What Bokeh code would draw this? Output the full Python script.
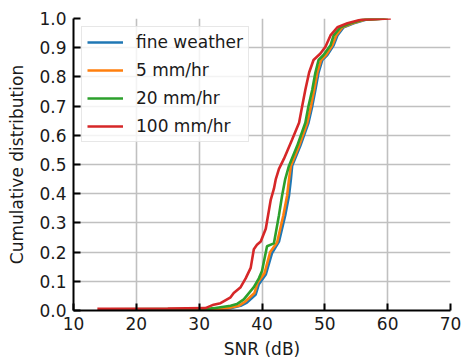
from bokeh.plotting import figure
from bokeh.models import Range1d, FixedTicker, PrintfTickFormatter, Legend, LegendItem
from bokeh.embed import file_html
from bokeh.resources import INLINE

# --- data ---
fine_x = [16.0, 33.0, 35.0, 36.6, 37.6, 39.0, 39.5, 40.6, 41.6, 42.7, 43.7, 44.3, 44.6, 44.8,
          46.1, 47.4, 48.0, 48.5, 49.0, 49.6, 50.4, 51.4, 52.0, 53.0, 54.6, 56.5, 59.5]
fine_y = [0.003, 0.005, 0.008, 0.016, 0.027, 0.055, 0.09, 0.123, 0.197, 0.236, 0.326, 0.394, 0.45, 0.496,
          0.564, 0.643, 0.70, 0.756, 0.815, 0.858, 0.875, 0.908, 0.942, 0.97, 0.984, 0.996, 1.0]

r5_x = [16.0, 32.5, 34.5, 36.3, 37.3, 38.8, 39.3, 40.4, 41.3, 42.4, 43.4, 44.0, 44.3, 44.6,
        45.9, 47.2, 47.8, 48.3, 48.8, 49.4, 50.2, 51.2, 51.8, 52.8, 54.4, 56.3, 59.7]
r5_y = [0.003, 0.005, 0.008, 0.016, 0.03, 0.06, 0.095, 0.128, 0.2, 0.233, 0.326, 0.394, 0.45, 0.496,
        0.564, 0.643, 0.70, 0.756, 0.815, 0.858, 0.875, 0.908, 0.942, 0.97, 0.984, 0.996, 1.0]

r20_x = [15.0, 31.5, 32.3, 35.0, 36.0, 37.1, 38.7, 39.5, 40.0, 40.8, 41.9, 42.7, 43.2, 43.7,
         44.3, 45.6, 46.9, 47.4, 48.0, 48.5, 49.0, 49.8, 50.9, 51.4, 52.5, 54.1, 56.0, 60.0]
r20_y = [0.004, 0.006, 0.008, 0.016, 0.022, 0.038, 0.08, 0.11, 0.135, 0.22, 0.23, 0.326, 0.394, 0.45,
         0.496, 0.564, 0.643, 0.70, 0.756, 0.815, 0.858, 0.875, 0.908, 0.942, 0.97, 0.984, 0.996, 1.0]

r100_x = [13.8, 25.0, 31.0, 32.3, 33.4, 35.0, 35.5, 36.6, 37.4, 38.2, 38.7, 39.2, 39.8, 40.6,
          41.4, 41.9, 42.2, 42.7, 43.5, 44.8, 45.9, 46.4, 46.9, 47.5, 48.2, 49.3, 50.1, 50.9,
          52.0, 53.6, 55.7, 60.5]
r100_y = [0.006, 0.007, 0.008, 0.02, 0.025, 0.045, 0.06, 0.08, 0.11, 0.146, 0.21, 0.225, 0.236, 0.28,
          0.38, 0.417, 0.45, 0.485, 0.52, 0.586, 0.643, 0.70, 0.756, 0.815, 0.858, 0.88, 0.903, 0.942,
          0.97, 0.984, 0.996, 1.0]

series_names = ["fine weather", "5 mm/hr", "20 mm/hr", "100 mm/hr"]
series_colors = ["#1f77b4", "#ff7f0e", "#2ca02c", "#d62728"]

x_ticks = [10, 20, 30, 40, 50, 60, 70]
y_ticks = [0.0, 0.1, 0.2, 0.3, 0.4, 0.5, 0.6, 0.7, 0.8, 0.9, 1.0]

FONT = "DejaVu Sans"
FS = "17px"

p = figure(width=463, height=361, output_backend="svg", toolbar_location=None,
           x_range=Range1d(10, 70), y_range=Range1d(0, 1.0),
           min_border_left=73, min_border_top=18, min_border_right=13, min_border_bottom=48)
p.outline_line_color = None
p.background_fill_color = "white"

data = [(fine_x, fine_y), (r5_x, r5_y), (r20_x, r20_y), (r100_x, r100_y)]
renderers = []
for (xs, ys), c in zip(data, series_colors):
    r = p.line(xs, ys, line_color=c, line_width=2.6)
    renderers.append(r)

for ax in (p.xaxis[0], p.yaxis[0]):
    ax.axis_line_color = "black"
    ax.axis_line_width = 2
    ax.major_tick_line_color = "black"
    ax.major_tick_line_width = 2
    ax.major_tick_in = 7
    ax.major_tick_out = 0
    ax.minor_tick_line_color = None
    ax.major_label_text_font = FONT
    ax.major_label_text_font_size = FS
    ax.major_label_text_color = "#1a1a1a"
    ax.axis_label_text_font = FONT
    ax.axis_label_text_font_size = FS
    ax.axis_label_text_font_style = "normal"
    ax.axis_label_text_color = "#1a1a1a"

p.xaxis.ticker = FixedTicker(ticks=x_ticks)
p.yaxis.ticker = FixedTicker(ticks=y_ticks)
p.xaxis.formatter = PrintfTickFormatter(format="%d")
p.yaxis.formatter = PrintfTickFormatter(format="%.1f")
p.xaxis.axis_label = "SNR (dB)"
p.yaxis.axis_label = "Cumulative distribution"
p.xaxis.major_label_standoff = 6
p.yaxis.major_label_standoff = 7
p.xaxis.axis_label_standoff = 6
p.yaxis.axis_label_standoff = 9

p.xgrid.grid_line_color = "#c0c0c0"
p.ygrid.grid_line_color = "#c0c0c0"
p.xgrid.grid_line_width = 1.6
p.ygrid.grid_line_width = 1.6

legend = Legend(items=[LegendItem(label=n, renderers=[r]) for n, r in zip(series_names, renderers)],
                location="top_left", margin=8, padding=5, spacing=8,
                glyph_width=36, glyph_height=18, label_height=18, label_standoff=13,
                label_text_font=FONT, label_text_font_size=FS, label_text_color="#1a1a1a",
                border_line_color="#d0d0d0", border_line_width=1,
                background_fill_color="white", background_fill_alpha=0.8)
p.add_layout(legend)

open("out.html", "w").write(file_html(p, INLINE))
